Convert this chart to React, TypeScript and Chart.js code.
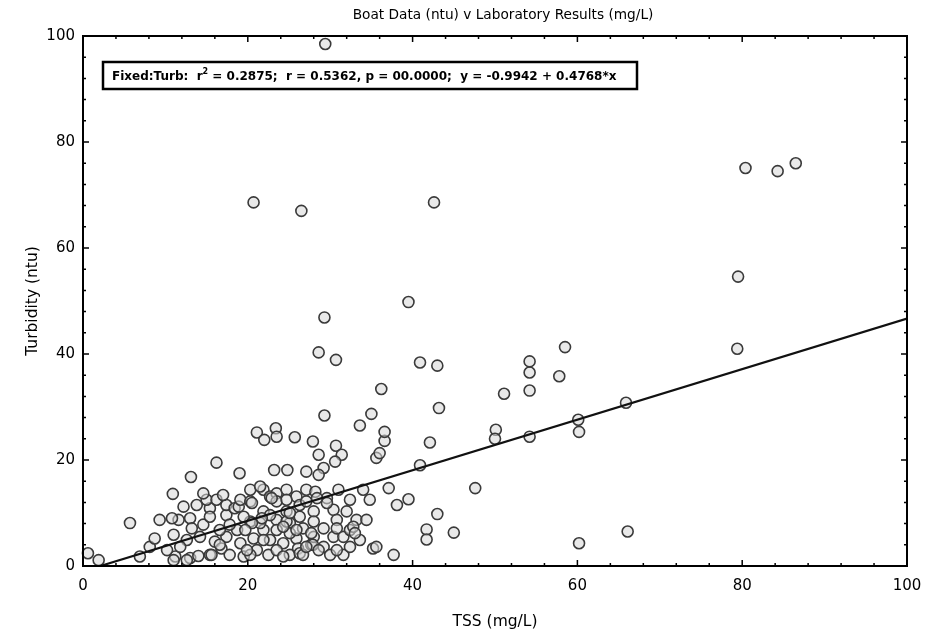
import React, { useEffect, useRef } from "react";
import { Chart, registerables } from "chart.js";
Chart.register(...registerables);

// TSS (mg/L)
const tss = [
  0.6, 1.9, 5.7, 6.9, 8.1, 8.7, 9.3, 10.9, 11.0, 11.6, 11.2, 13.0, 13.0, 13.2, 13.1, 14.6, 15.4, 15.4, 15.0, 15.4,
  16.0, 16.8, 16.2, 16.2, 17.4, 17.4, 17.4, 17.8, 18.4, 18.7, 18.9, 19.1, 19.0, 19.1, 19.5, 20.3, 20.3, 20.7, 21.1, 21.9,
  21.9, 21.9, 22.5, 22.7, 22.7, 23.5, 23.5, 23.5, 24.3, 24.7, 24.7, 25.1, 25.1, 25.9, 26.1, 26.3, 26.7, 27.1, 27.7, 28.0,
  28.0, 28.0, 28.2, 29.2, 29.2, 30.0, 30.4, 30.4, 31.0, 31.6, 31.6, 32.0, 32.4, 33.2, 34.0, 34.8, 35.2, 35.6, 12.6, 14.0,
  20.3, 23.5, 26.3, 27.9,
  21.1, 22.0, 23.4, 23.5, 25.7, 27.9, 29.3, 30.7, 28.6, 31.4, 30.6, 29.2, 28.6, 23.2, 24.8, 27.1, 35.6, 36.0, 36.6, 36.6,
  33.6, 35.0, 36.2, 28.6, 30.7, 29.3, 39.5, 40.9, 43.0, 43.2, 42.1, 40.9, 37.1, 39.5, 38.1, 47.6, 43.0, 41.7, 41.7, 45.0,
  37.7, 60.2, 66.1,
  50.1, 50.0, 51.1, 54.2, 54.2, 54.2, 54.2, 57.8, 58.5, 60.2, 60.1, 65.9, 79.4, 79.5, 80.4, 84.3, 86.5,
  20.7, 26.5, 42.6, 29.4,
  20.3, 21.5, 25.9, 29.6, 32.4, 26.3, 25.1, 21.5, 22.7, 19.5, 17.8, 16.6, 14.2, 12.6, 11.8, 10.2, 12.2, 13.8, 10.8, 14.6,
  17.0, 26.7, 28.6, 30.8, 32.4, 33.6, 34.4, 30.8, 30.8, 29.6, 21.9, 19.9, 24.3, 27.1, 25.9, 24.7, 23.5, 24.7, 27.1, 28.4,
  22.9, 20.5, 24.3, 27.7, 32.8, 33.0, 21.7, 25.1, 20.5, 19.7, 16.6, 15.6, 11.0,
];

// Turbidity (ntu)
const turbidity = [
  2.4, 1.1, 8.1, 1.8, 3.6, 5.2, 8.7, 13.6, 5.9, 8.7, 1.8, 1.5, 9.0, 7.1, 16.8, 7.8, 10.9, 9.3, 12.5, 2.1,
  4.6, 3.3, 12.5, 19.5, 9.6, 11.5, 5.5, 2.1, 10.9, 6.8, 11.2, 12.5, 17.5, 4.3, 1.8, 12.2, 8.4, 5.2, 3.0, 14.4,
  10.3, 6.8, 2.1, 13.1, 4.9, 13.7, 8.7, 6.8, 4.3, 14.4, 10.3, 8.1, 2.1, 5.2, 3.3, 9.3, 7.1, 14.4, 4.0, 10.3,
  8.4, 5.5, 14.0, 7.1, 3.6, 2.1, 10.6, 5.5, 14.4, 2.1, 5.5, 10.3, 6.8, 8.7, 14.4, 12.5, 3.3, 3.6, 1.1, 1.9,
  2.1, 3.0, 2.4, 4.0,
  25.2, 23.8, 26.0, 24.4, 24.3, 23.5, 28.4, 22.7, 21.0, 21.0, 19.7, 18.5, 17.2, 18.1, 18.1, 17.8, 20.4, 21.3, 23.6, 25.3,
  26.5, 28.7, 33.4, 40.3, 38.9, 46.9, 49.8, 38.4, 37.8, 29.8, 23.3, 19.0, 14.7, 12.6, 11.5, 14.7, 9.8, 6.9, 5.0, 6.3,
  2.1, 4.3, 6.5,
  25.7, 24.0, 32.5, 33.1, 36.5, 38.6, 24.4, 35.8, 41.3, 25.3, 27.6, 30.8, 41.0, 54.6, 75.1, 74.5, 76.0,
  68.6, 67.0, 68.6, 98.5,
  14.4, 15.0, 13.1, 12.8, 12.5, 11.5, 6.2, 8.1, 9.6, 9.3, 7.8, 6.8, 5.5, 4.9, 3.6, 3.0, 11.2, 11.5, 9.0, 13.7,
  13.4, 2.1, 3.0, 3.0, 3.6, 4.9, 8.7, 8.7, 7.1, 11.9, 4.9, 3.0, 1.8, 3.6, 6.8, 8.4, 12.2, 12.5, 12.2, 12.8,
  12.8, 11.9, 7.4, 6.2, 7.4, 6.2, 9.0, 10.0, 8.1, 6.8, 4.0, 2.1, 1.1,
];

// Fitted line end points
const fitX = [2.1, 100];
const fitY = [0, 46.7];

const xTicks = [0, 20, 40, 60, 80, 100];
const yTicks = [0, 20, 40, 60, 80, 100];

const chartTitle = "Boat Data (ntu) v Laboratory Results (mg/L)";
const xTitle = "TSS (mg/L)";
const yTitle = "Turbidity (ntu)";
const statsPrefix = "Fixed:Turb:  r";
const statsSup = "2";
const statsRest = " = 0.2875;  r = 0.5362, p = 00.0000;  y = -0.9942 + 0.4768*x";

const FONT = "'DejaVu Sans', 'Liberation Sans', Arial, sans-serif";

const framePlugin = {
  id: "framePlugin",
  afterDatasetsDraw(chart: any) {
    const { ctx, chartArea, scales } = chart;
    const { left, right, top, bottom } = chartArea;
    const xs = scales.x;
    const ys = scales.y;
    ctx.save();
    ctx.strokeStyle = "#000";
    ctx.lineWidth = 2;
    ctx.strokeRect(left, top, right - left, bottom - top);
    ctx.lineWidth = 1.5;
    ctx.beginPath();
    for (let v = 0; v <= 100; v += 4) {
      const major = v % 20 === 0;
      const len = major ? 6 : 3;
      const px = xs.getPixelForValue(v);
      ctx.moveTo(px, bottom);
      ctx.lineTo(px, bottom - len);
      ctx.moveTo(px, top);
      ctx.lineTo(px, top + len);
      const py = ys.getPixelForValue(v);
      ctx.moveTo(left, py);
      ctx.lineTo(left + len, py);
      ctx.moveTo(right, py);
      ctx.lineTo(right - len, py);
    }
    ctx.stroke();

    // stats box
    const bx = 103, by = 62, bw = 534, bh = 27;
    ctx.fillStyle = "#fff";
    ctx.fillRect(bx, by, bw, bh);
    ctx.lineWidth = 2.5;
    ctx.strokeRect(bx, by, bw, bh);
    ctx.fillStyle = "#000";
    ctx.textBaseline = "middle";
    ctx.textAlign = "left";
    ctx.font = `bold 12px ${FONT}`;
    let tx = bx + 9;
    const ty = by + bh / 2 + 1;
    ctx.fillText(statsPrefix, tx, ty);
    tx += ctx.measureText(statsPrefix).width;
    ctx.font = `bold 8px ${FONT}`;
    ctx.fillText(statsSup, tx, ty - 5);
    tx += ctx.measureText(statsSup).width;
    ctx.font = `bold 12px ${FONT}`;
    ctx.fillText(statsRest, tx, ty);

    // titles
    const cx = (left + right) / 2;
    ctx.textAlign = "center";
    ctx.font = `13.7px ${FONT}`;
    ctx.fillText(chartTitle, cx + 8, 15);
    ctx.font = `15.5px ${FONT}`;
    ctx.fillText(xTitle, cx, 622);
    ctx.save();
    ctx.translate(33, (top + bottom) / 2);
    ctx.rotate(-Math.PI / 2);
    ctx.fillText(yTitle, 0, 0);
    ctx.restore();
    ctx.restore();
  },
};

export default function App() {
  const ref = useRef<HTMLCanvasElement | null>(null);
  useEffect(() => {
    if (!ref.current) return;
    const points = tss.map((x, i) => ({ x, y: turbidity[i] }));
    const fit = fitX.map((x, i) => ({ x, y: fitY[i] }));
    const chart = new Chart(ref.current, {
      type: "scatter",
      data: {
        datasets: [
          {
            label: "Fit",
            type: "line",
            data: fit,
            borderColor: "#111",
            borderWidth: 2.2,
            pointRadius: 0,
            fill: false,
            order: 0,
          } as any,
          {
            label: "Turbidity",
            data: points,
            pointRadius: 5.5,
            pointBorderWidth: 1.6,
            borderColor: "#3a3a3a",
            backgroundColor: "rgba(215,215,215,0.55)",
            clip: false,
            order: 1,
          } as any,
        ],
      },
      options: {
        animation: false,
        responsive: false,
        maintainAspectRatio: false,
        layout: { padding: { top: 36, right: 18, left: 0, bottom: 0 } },
        plugins: { legend: { display: false }, tooltip: { enabled: false }, title: { display: false } },
        scales: {
          x: {
            type: "linear",
            min: 0,
            max: 100,
            grid: { display: false, drawTicks: false },
            border: { display: false },
            afterFit: (s: any) => { s.height = 70; s.paddingLeft = 0; s.paddingRight = 0; },
            afterBuildTicks: (s: any) => { s.ticks = xTicks.map((v) => ({ value: v })); },
            ticks: { color: "#000", font: { family: FONT, size: 15 }, padding: 11 },
          },
          y: {
            type: "linear",
            min: 0,
            max: 100,
            grid: { display: false, drawTicks: false },
            border: { display: false },
            afterFit: (s: any) => { s.width = 83; s.paddingTop = 0; s.paddingBottom = 0; },
            afterBuildTicks: (s: any) => { s.ticks = yTicks.map((v) => ({ value: v })); },
            ticks: { color: "#000", font: { family: FONT, size: 15 }, padding: 8 },
          },
        },
      },
      plugins: [framePlugin],
    });
    return () => chart.destroy();
  }, []);
  return (
    <div style={{ position: "fixed", left: 0, top: 0, width: 925, height: 636, background: "#fff" }}>
      <canvas ref={ref} width={925} height={636} style={{ width: 925, height: 636, display: "block" }} />
    </div>
  );
}
